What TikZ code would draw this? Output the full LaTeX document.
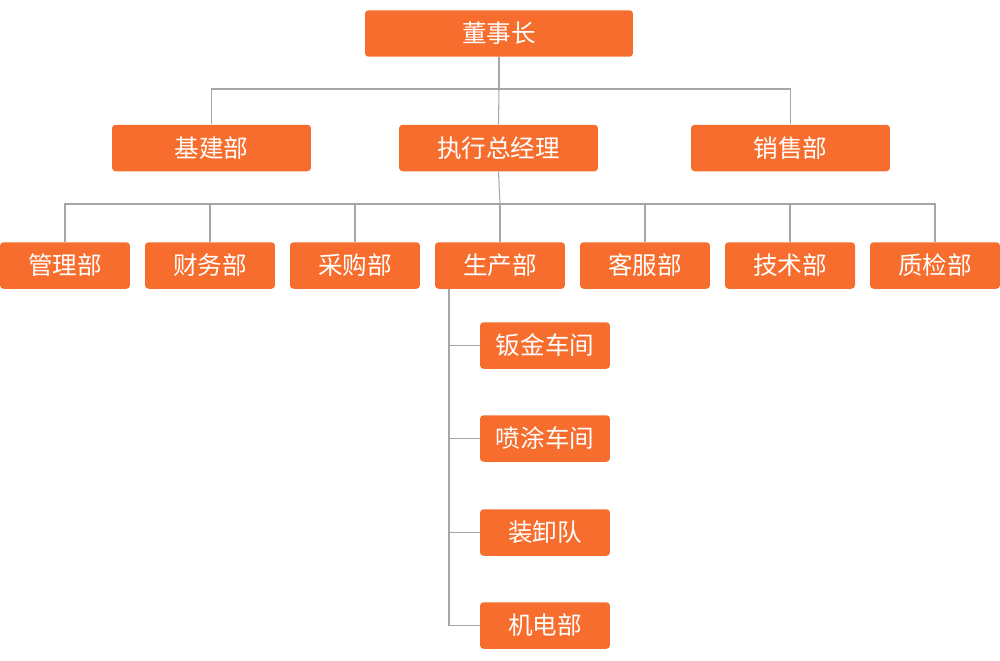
\documentclass[tikz,border=0pt]{standalone}
\usepackage{fontspec}
\newfontfamily\cjk{Noto Sans CJK SC}
\definecolor{boxorange}{HTML}{F76D2D}
\tikzstyle{box} = [rectangle, rounded corners=2pt, minimum width=2.6cm, minimum height=0.93cm, fill=boxorange, text=white, font=\cjk\fontsize{14}{16}\selectfont, inner sep=0pt]
\tikzstyle{wide} = [box, minimum width=3.98cm]
\tikzstyle{link} = [draw=gray!70, line width=0.6pt]

\begin{document}
\begin{tikzpicture}[x=0.02cm, y=-0.02cm]
    \useasboundingbox (0,0) rectangle (1000,660);
    \node (chair) [wide, minimum width=5.36cm] at (499,33.5) {董事长};
    \node (infra) [wide] at (211.5,148) {基建部};
    \node (gm) [wide] at (498.5,148) {执行总经理};
    \node (sales) [wide] at (790.5,148) {销售部};

    \foreach \name/\x/\txt in {mgmt/65/管理部, fin/210/财务部, buy/355/采购部, prod/500/生产部, svc/645/客服部, tech/790/技术部, qc/935/质检部}
        \node (\name) [box] at (\x,265.5) {\txt};

    \foreach \name/\y/\txt in {sheet/345.5/钣金车间, paint/438.5/喷涂车间, load/532.5/装卸队, elec/625.5/机电部}
        \node (\name) [box] at (545,\y) {\txt};

    % top level
    \coordinate (j1) at (499,89);
    \draw [link] (chair.south) -- (j1);
    \draw [link] (infra.north) |- (j1) -| (sales.north);
    \draw [link] (j1) -- (gm.north);

    % departments
    \coordinate (j2) at (500,204);
    \draw [link] (gm.south) -- (j2);
    \draw [link] (mgmt.north) |- (j2) -| (qc.north);
    \foreach \name in {fin, buy, prod, svc, tech}
        \draw [link] (\name.north) -- (\name.north |- j2);

    % workshops
    \coordinate (spine) at (449,289);
    \draw [link] (spine) |- (elec.west);
    \foreach \name in {sheet, paint, load}
        \draw [link] (\name.west) -- (\name.west -| spine);
\end{tikzpicture}
\end{document}
